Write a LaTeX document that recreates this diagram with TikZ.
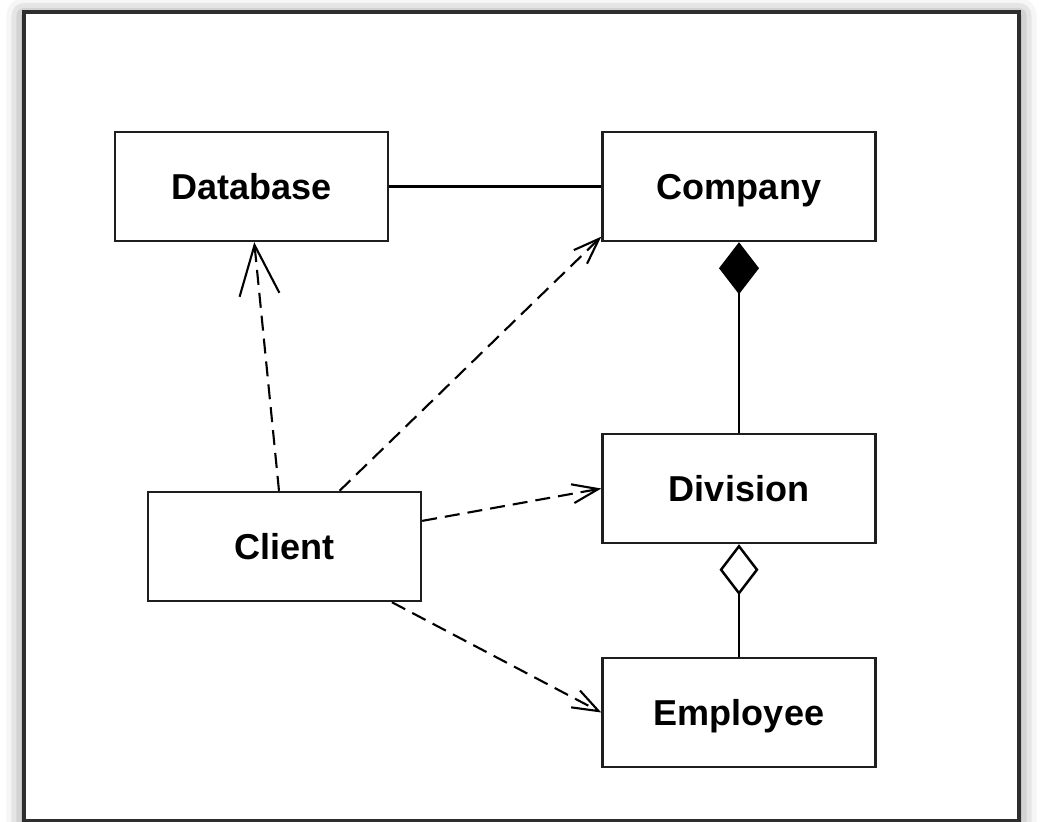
\documentclass[tikz,border=0pt]{standalone}
\usepackage{fontspec}
\setmainfont{Liberation Sans}
\usetikzlibrary{arrows.meta,positioning,calc,shadows.blur}
\definecolor{framegray}{HTML}{2E2E2E}
\definecolor{boxgray}{HTML}{1E1E1E}
\tikzset{
  classbox/.style={draw=boxgray,line width=1.4pt,fill=white,inner sep=0pt,
    minimum width=5.46cm,minimum height=2.18cm,text height=14.7pt,text depth=0pt,
    font=\bfseries\fontsize{20.5}{24}\selectfont},
  usearrow/.style={-{Straight Barb[length=0.52cm,width=0.38cm]},line width=1.2pt,
    dash pattern=on 0.3cm off 0.16cm},
  assocline/.style={draw=black,line width=1.4pt}
}

\begin{document}
\begin{tikzpicture}[x=0.02cm,y=-0.02cm]
  \useasboundingbox (0,0) rectangle (1042,822);
  \draw[framegray,line width=1.8pt,fill=white,
    blur shadow={shadow xshift=0pt,shadow yshift=-2pt,shadow blur radius=10pt,shadow opacity=55}]
    (24,12) rectangle (1019,821);
  \node[classbox] (database) at (251.5,186.5) {Database};
  \node[classbox] (company) at (739,186.5) {Company};
  \node[classbox] (division) at (739,488.5) {Division};
  \node[classbox] (client) at (284.5,546.5) {Client};
  \node[classbox] (employee) at (739,712.5) {Employee};
  \draw[assocline] (database) -- (company);
  \draw[assocline,-{Diamond[length=1.04cm,width=0.8cm]}] (division) -- (company);
  \draw[assocline,-{Diamond[open,length=1.02cm,width=0.78cm]}] (employee) -- (division);
  \draw[usearrow,-{Straight Barb[length=1.0cm,width=0.8cm]}]
    ($(client.north west)!0.48!(client.north east)$) -- ($(database.south west)!0.51!(database.south east)$);
  \draw[usearrow] ($(client.north west)!0.70!(client.north east)$) -- ($(company.south west)!0.05!(company.north west)$);
  \draw[usearrow] ($(client.north east)!0.27!(client.south east)$) -- (division.west);
  \draw[usearrow] ($(client.south west)!0.89!(client.south east)$) -- (employee.west);
\end{tikzpicture}
\end{document}
